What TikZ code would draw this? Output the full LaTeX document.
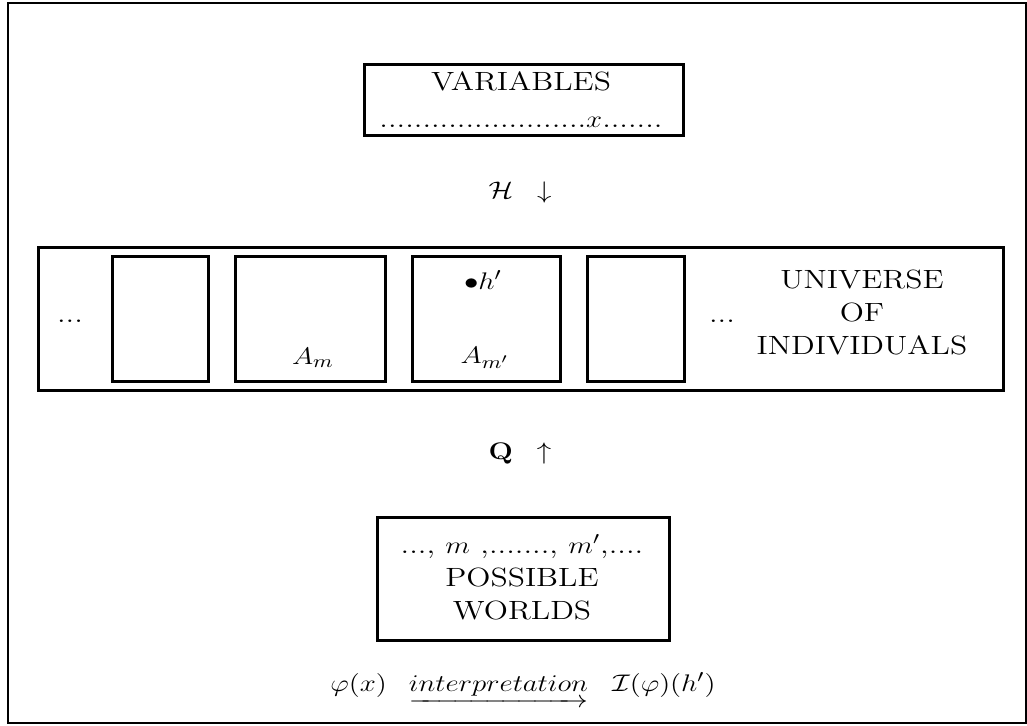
\documentclass[tikz,border=0pt]{standalone}
\usepackage{amsmath}
\usepackage{amssymb}
\begin{document}
\begin{tikzpicture}[x=0.5pt,y=-0.5pt,
  box/.style={draw, line width=1.3pt, inner sep=0pt},
  txt/.style={inner sep=0pt, align=center, xscale=1.2, transform shape, font=\fontsize{13.2}{16.5}\selectfont}]
\useasboundingbox (0,0) rectangle (1027,726);
% outer frame
\node[box, line width=1.1pt, minimum width=1018*0.5pt, minimum height=720*0.5pt, anchor=north west] (frame) at (7,2) {};
% top box
\node[box, minimum width=319*0.5pt, minimum height=71*0.5pt, anchor=north west] (vars) at (363,63) {};
\node[txt] (varst) at (521,81) {VARIABLES};
\node[txt] (varsd) at (521,122) {........................$x$.......};
\node[txt] (H) at (520,193) {$\mathcal{H}\;\;\downarrow$};
% universe box
\node[box, minimum width=965*0.5pt, minimum height=143*0.5pt, anchor=north west] (univ) at (37,246) {};
\node[box, minimum width=96*0.5pt, minimum height=125*0.5pt, anchor=north west] (b1) at (111,255) {};
\node[box, minimum width=150*0.5pt, minimum height=125*0.5pt, anchor=north west] (b2) at (234,255) {};
\node[box, minimum width=148*0.5pt, minimum height=125*0.5pt, anchor=north west] (b3) at (411,255) {};
\node[box, minimum width=97*0.5pt, minimum height=125*0.5pt, anchor=north west] (b4) at (586,255) {};
\node[txt] (dl) at (70,321) {...};
\node[txt] (dr) at (722,321) {...};
\node[txt] (ut) at (862,312) {UNIVERSE\\OF\\INDIVIDUALS};
\node[txt] (am) at (313,358) {$A_m$};
\node[txt] (amp) at (485,358) {$A_{m'}$};
\node[txt] (hp) at (483,280) {$\bullet h'$};
\node[txt] (Q) at (520,453) {$\mathbf{Q}\;\;\uparrow$};
% possible worlds
\node[box, minimum width=292*0.5pt, minimum height=123*0.5pt, anchor=north west] (pw) at (376,516) {};
\node[txt] (pwt) at (522,577) {..., $m$ ,......., $m'$,....\\POSSIBLE\\WORLDS};
% bottom formula
\node[txt] (form) at (523,690) {$\varphi(x)\hspace{0.7em}\underrightarrow{interpretation}\;\;\;\mathcal{I}(\varphi)(h')$};
\end{tikzpicture}
\end{document}
